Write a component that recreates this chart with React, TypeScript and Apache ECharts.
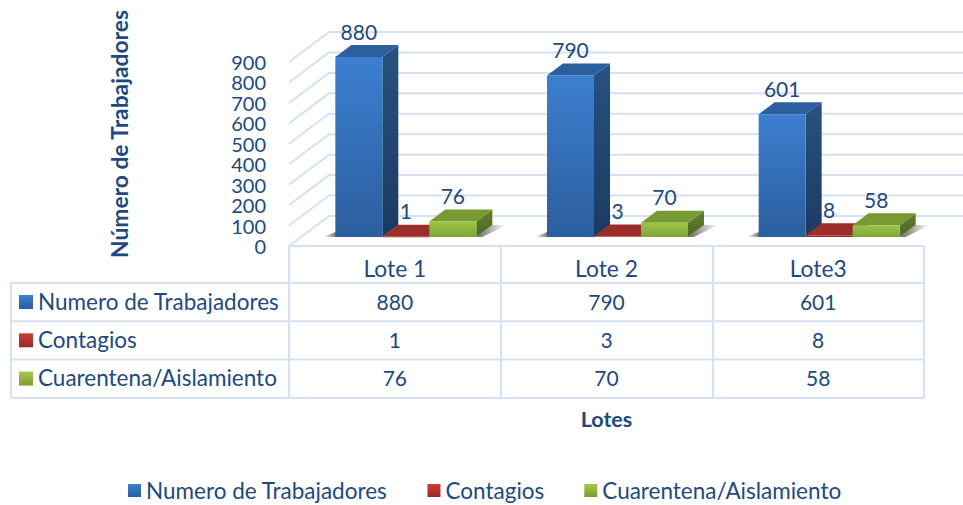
import React, { useEffect, useRef } from "react";
import * as echarts from "echarts";

const categories = ["Lote 1", "Lote 2", "Lote3"];
const seriesNames = ["Numero de Trabajadores", "Contagios", "Cuarentena/Aislamiento"];
const trabajadores = [880, 790, 601];
const contagios = [1, 3, 8];
const cuarentena = [76, 70, 58];
const yTicks = [0, 100, 200, 300, 400, 500, 600, 700, 800, 900];

const FONT = "Lato";
const TEXT = "#1F497D";
const LINE = "#D5E2F3";
const W = 963, H = 505;
const BAR_W = 47, DX = 16, DY = 12, OFF_X = 11, OFF_Y = 9, WALL_X = 40, WALL_Y = 30;
const ROW_H = 38.3, TABLE_LEFT = 11;
const NUM_SIZE = 21, TICK_SIZE = 20, LABEL_SIZE = 22.5, CAT_SIZE = 22.8;

const grad = (a: string, b: string) =>
  new echarts.graphic.LinearGradient(0, 0, 0, 1, [
    { offset: 0, color: a },
    { offset: 1, color: b },
  ]);
const hgrad = (a: string, b: string) =>
  new echarts.graphic.LinearGradient(0, 0, 1, 0, [
    { offset: 0, color: a },
    { offset: 1, color: b },
  ]);

const palettes = [
  { front: ["#3C7FD0", "#2B5E9E"], side: ["#28527F", "#1B3A62"], top: "#2B5F9E", key: ["#3C7FD0", "#2B5E9E"] },
  { front: ["#C23530", "#8F2A28"], side: ["#7A2322", "#5E1C1B"], top: "#9B2D2A", key: ["#D03C38", "#952B2A"] },
  { front: ["#9CC547", "#7FA53A"], side: ["#647F2E", "#4D6622"], top: "#789A33", key: ["#A5C94A", "#7E9A32"] },
];

const bar3d = (seriesIdx: number) => (_: any, api: any) => {
  const cat = api.value(0);
  const val = api.value(1);
  const [cx, yTop] = api.coord([cat, val]);
  const [, yBase] = api.coord([cat, 0]);
  const x0 = cx + OFF_X + (seriesIdx - 1.5) * BAR_W;
  const x1 = x0 + BAR_W;
  const b = yBase - OFF_Y;
  const t = yTop - OFF_Y;
  const p = palettes[seriesIdx];
  return {
    type: "group",
    children: [
      {
        type: "polygon",
        shape: { points: [[x1, t], [x1 + DX, t - DY], [x1 + DX, b - DY], [x1, b]] },
        style: { fill: grad(p.side[0], p.side[1]) },
      },
      {
        type: "polygon",
        shape: { points: [[x0, t], [x0 + DX, t - DY], [x1 + DX, t - DY], [x1, t]] },
        style: { fill: p.top },
      },
      {
        type: "rect",
        shape: { x: x0, y: t, width: BAR_W, height: Math.max(b - t, 0.5) },
        style: { fill: grad(p.front[0], p.front[1]) },
      },
      {
        type: "text",
        z2: 50,
        style: {
          x: (x0 + x1) / 2,
          y: t - 26,
          text: String(val),
          fill: TEXT,
          font: `${NUM_SIZE}px ${FONT}`,
          align: "center",
          verticalAlign: "middle",
        },
      },
    ],
  };
};

const shadow = (_: any, api: any) => {
  const [cx, yBase] = api.coord([api.value(0), 0]);
  const x0 = cx + OFF_X - 1.5 * BAR_W;
  const x1 = x0 + 3 * BAR_W;
  const b = yBase - OFF_Y;
  return {
    type: "group",
    children: [
      {
        type: "polygon",
        shape: { points: [[x0 - 12, b], [x0, b - 5], [x0 + 2, b]] },
        style: { fill: hgrad("rgba(60,60,60,0)", "rgba(50,50,50,0.75)") },
      },
      {
        type: "polygon",
        shape: { points: [[x1, b], [x1 + DX, b - DY], [x1 + DX + 14, b - 12], [x1 + 6, b]] },
        style: { fill: hgrad("rgba(50,50,50,0.75)", "rgba(60,60,60,0)") },
      },
    ],
  };
};

const wall = (params: any, api: any) => {
  const [, y] = api.coord([0, api.value(0)]);
  const r = params.coordSys;
  return {
    type: "polyline",
    shape: { points: [[r.x, y], [r.x + WALL_X, y - WALL_Y], [r.x + r.width + WALL_X, y - WALL_Y]] },
    style: { stroke: LINE, lineWidth: 2, fill: "none" },
  };
};

const cell = (_: any, api: any) => {
  const [x, y] = api.coord([api.value(0), 0]);
  return {
    type: "text",
    style: {
      x,
      y: y + 55 + api.value(1) * ROW_H,
      text: String(api.value(2)),
      fill: TEXT,
      font: `${NUM_SIZE}px ${FONT}`,
      align: "center",
      verticalAlign: "middle",
    },
  };
};

const allValues = [trabajadores, contagios, cuarentena];

export default function App() {
  const ref = useRef<HTMLDivElement>(null);
  useEffect(() => {
    document.body.style.margin = "0";
    const chart = echarts.init(ref.current!, undefined, { renderer: "svg" });
    const gridLeft = 289, gridRight = 924, gridTop = 62, gridBottom = 246;
    const tableBottom = gridBottom + 152;
    const rowTop = gridBottom + 37;

    const tableLines: any[] = [];
    [0, 1, 2, 3].forEach((i) => {
      tableLines.push({
        type: "line",
        shape: { x1: TABLE_LEFT, y1: rowTop + i * ROW_H, x2: gridRight, y2: rowTop + i * ROW_H },
        style: { stroke: LINE, lineWidth: 2 },
      });
    });
    tableLines.push({
      type: "line",
      shape: { x1: TABLE_LEFT, y1: rowTop, x2: TABLE_LEFT, y2: tableBottom },
      style: { stroke: LINE, lineWidth: 2 },
    });
    const rowLabels: any[] = [];
    seriesNames.forEach((name, i) => {
      const yc = gridBottom + 56 + i * ROW_H;
      rowLabels.push({
        type: "rect",
        shape: { x: 19, y: yc - 7, width: 14, height: 14 },
        style: { fill: grad(palettes[i].key[0], palettes[i].key[1]) },
      });
      rowLabels.push({
        type: "text",
        style: {
          x: 38,
          y: yc - 1,
          text: name,
          fill: TEXT,
          font: `${LABEL_SIZE}px ${FONT}`,
          verticalAlign: "middle",
        },
      });
    });

    const cells: number[][] = [];
    allValues.forEach((vals, row) => vals.forEach((v, c) => cells.push([c, row, v])));

    chart.setOption({
      animation: false,
      backgroundColor: "#fff",
      textStyle: { fontFamily: FONT },
      grid: { left: gridLeft, top: gridTop, width: gridRight - gridLeft, height: gridBottom - gridTop, containLabel: false },
      xAxis: {
        type: "category",
        data: categories,
        name: "Lotes",
        nameLocation: "middle",
        nameGap: 162,
        nameTextStyle: { color: TEXT, fontFamily: FONT, fontWeight: "bold", fontSize: 21.5 },
        axisLine: { show: true, lineStyle: { color: LINE, width: 2 } },
        axisTick: { show: true, alignWithLabel: false, inside: false, length: 152, lineStyle: { color: LINE, width: 2 } },
        axisLabel: { color: TEXT, fontFamily: FONT, fontSize: CAT_SIZE, margin: 10 },
      },
      yAxis: {
        type: "value",
        min: 0,
        max: 900,
        interval: 100,
        name: "Número de Trabajadores",
        nameLocation: "middle",
        nameGap: 159,
        nameRotate: 90,
        nameTextStyle: { color: TEXT, fontFamily: FONT, fontWeight: "bold", fontSize: 22.8, padding: [0, 0, 0, 40] },
        axisLine: { show: false },
        axisTick: { show: false },
        splitLine: { show: false },
        axisLabel: {
          color: TEXT,
          fontFamily: FONT,
          fontSize: TICK_SIZE,
          lineHeight: 18,
          margin: 23,
          showMinLabel: true,
          showMaxLabel: true,
        },
      },
      legend: {
        left: 128,
        top: 479,
        padding: 0,
        itemGap: 40,
        itemWidth: 13,
        itemHeight: 13,
        icon: "rect",
        textStyle: { color: TEXT, fontFamily: FONT, fontSize: LABEL_SIZE },
        data: seriesNames,
      },
      graphic: { elements: [...tableLines, ...rowLabels] },
      series: [
        {
          type: "custom",
          name: "pared",
          clip: false,
          silent: true,
          z: 1,
          data: yTicks.map((v) => [v]),
          encode: { y: 0 },
          renderItem: wall,
        },
        {
          type: "custom",
          name: "sombra",
          clip: false,
          silent: true,
          z: 2,
          data: categories.map((_, i) => [i, 0]),
          encode: { x: 0, y: 1 },
          renderItem: shadow,
        },
        ...seriesNames.map((name, i) => ({
          type: "custom",
          name,
          clip: false,
          z: 3 + i,
          itemStyle: { color: grad(palettes[i].key[0], palettes[i].key[1]) },
          data: allValues[i].map((v, c) => [c, v]),
          encode: { x: 0, y: 1 },
          renderItem: bar3d(i),
        })),
        {
          type: "custom",
          name: "tabla",
          clip: false,
          silent: true,
          z: 8,
          data: cells,
          encode: { x: 0 },
          renderItem: cell,
        },
      ],
    });
    return () => chart.dispose();
  }, []);
  return <div ref={ref} style={{ width: W, height: H }} />;
}
